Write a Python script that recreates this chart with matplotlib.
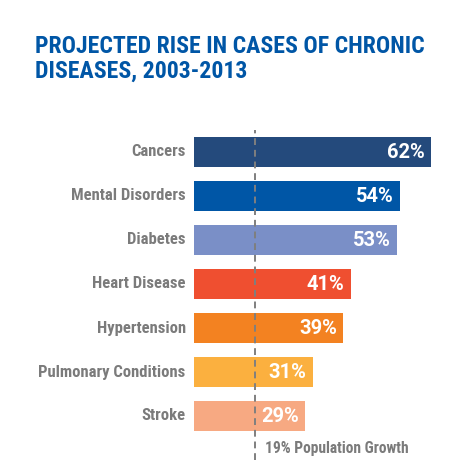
import matplotlib
matplotlib.use("Agg")
import matplotlib.pyplot as plt
from matplotlib import font_manager

# Data
categories = ['Cancers', 'Mental Disorders', 'Diabetes', 'Heart Disease',
              'Hypertension', 'Pulmonary Conditions', 'Stroke']
values = [62, 54, 53, 41, 39, 31, 29]
colors = ['#244a7c', '#0056a6', '#7a8fc7', '#ef4f30', '#f38221', '#fbb03f', '#f7a982']
pop_growth = 19
pop_line_pos = 16  # where the dashed marker sits visually in the source graphic

# pick a condensed bold face, fall back to plain bold
wanted = ['LiberationSansNarrow-Bold.ttf', 'RobotoCondensed-Bold.ttf',
          'DejaVuSansCondensed-Bold.ttf']
files = {f.fname.split('/')[-1]: f.fname for f in font_manager.fontManager.ttflist}
cond_path = next((files[w] for w in wanted if w in files), None)

def fp(size):
    if cond_path:
        return font_manager.FontProperties(fname=cond_path, size=size)
    return font_manager.FontProperties(weight='bold', size=size)

fig = plt.figure(figsize=(4.5, 4.76), dpi=100)
ax = fig.add_axes([194/450, 1 - 460/476, 237/450, 330/476])

ypos = list(range(len(categories)))
ax.barh(ypos, values, height=0.67, color=colors, zorder=2)
ax.set_xlim(0, max(values))
ax.set_ylim(7.0, -0.5)
ax.axvline(pop_line_pos, color='#7f7f7f', linestyle=(0, (3.5, 2.5)), linewidth=1.4, zorder=3)

for y, cat, v in zip(ypos, categories, values):
    ax.annotate(cat, (0, y), xytext=(-6, 0), textcoords='offset points',
                ha='right', va='center', fontproperties=fp(12),
                color='#7b7b7b', annotation_clip=False)
    ax.annotate(f'{v}%', (v, y), xytext=(-4.5, 0), textcoords='offset points',
                ha='right', va='center', fontsize=14.5, fontweight='bold',
                family=['Roboto', 'DejaVu Sans'], color='white', zorder=4)

ax.annotate(f'{pop_growth}% Population Growth', (pop_line_pos, 6.75), xytext=(7, 0),
            textcoords='offset points', ha='left', va='center',
            fontproperties=fp(11.2), color='#7b7b7b')

ax.axis('off')

fig.text(35/450, 1 - 59/476, 'PROJECTED RISE IN CASES OF CHRONIC\nDISEASES, 2003-2013',
         ha='left', va='center', fontproperties=fp(17.1),
         color='#0056a6', linespacing=1.1)

fig.savefig('out.png', dpi=100)
